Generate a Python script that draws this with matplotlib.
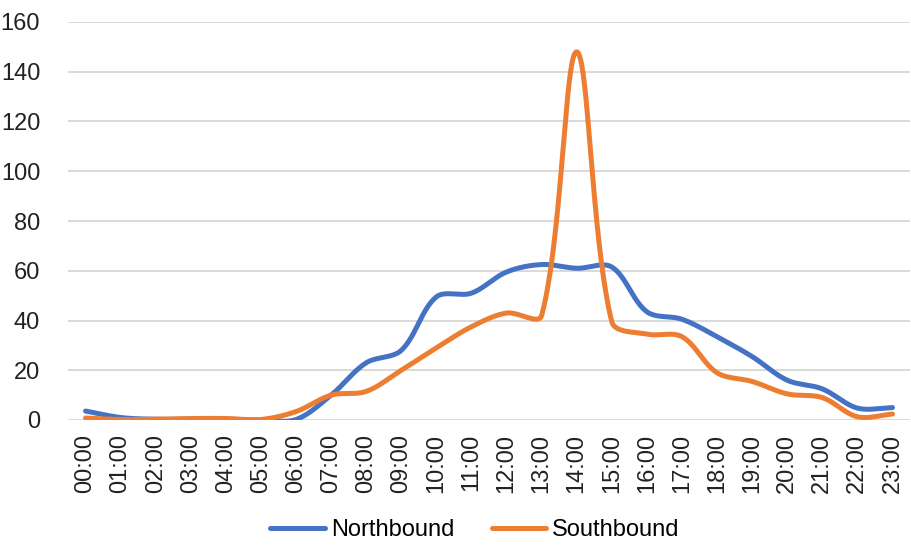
import numpy as np
import matplotlib
matplotlib.use("Agg")
import matplotlib.pyplot as plt

hours = [f"{h:02d}:00" for h in range(24)]
northbound = [3.6, 1.0, 0.3, 0.3, 0.3, 0.0, 0.2, 10.0, 23.0, 28.0, 49.5, 51.0,
              59.5, 62.5, 61.0, 61.5, 43.5, 40.5, 33.5, 25.5, 16.0, 12.5, 4.8, 5.0]
southbound = [0.8, 0.2, 0.3, 0.6, 0.6, 0.2, 3.4, 10.0, 11.5, 20.0, 29.0, 37.5,
              43.0, 42.0, 148.0, 39.5, 34.5, 33.5, 19.0, 15.5, 10.5, 9.0, 1.3, 2.4]

BLUE = "#4472C4"
ORANGE = "#ED7D31"

W, H = 911, 545
X0, X1, Y0, Y1 = 68, 910, 420, 22   # plot area in pixels


def smooth(ax, x, y, n=40, tension=1 / 3):
    """Smoothed line built from cubic Bezier segments; control points are
    weighted by neighbouring segment lengths measured on screen."""
    xmin, xmax = ax.get_xlim()
    ymin, ymax = ax.get_ylim()
    sx = (X1 - X0) / (xmax - xmin)
    sy = (Y0 - Y1) / (ymax - ymin)
    P = np.column_stack([(np.asarray(x, float) - xmin) * sx,
                         (np.asarray(y, float) - ymin) * sy])
    m = len(P)
    cin = np.zeros_like(P)
    cout = np.zeros_like(P)
    for i in range(m):
        prev = P[i - 1] if i > 0 else P[i]
        nxt = P[i + 1] if i < m - 1 else P[i]
        d = nxt - prev
        lp = np.linalg.norm(P[i] - prev)
        ln = np.linalg.norm(nxt - P[i])
        tot = lp + ln if lp + ln > 0 else 1.0
        cout[i] = P[i] + d * tension * ln / tot
        cin[i] = P[i] - d * tension * lp / tot
    t = np.linspace(0, 1, n)[:, None]
    segs = []
    for i in range(m - 1):
        p0, c1, c2, p3 = P[i], cout[i], cin[i + 1], P[i + 1]
        segs.append((1 - t) ** 3 * p0 + 3 * (1 - t) ** 2 * t * c1
                    + 3 * (1 - t) * t ** 2 * c2 + t ** 3 * p3)
    pts = np.concatenate(segs)
    return pts[:, 0] / sx + xmin, pts[:, 1] / sy + ymin


plt.rcParams["font.family"] = ["Liberation Sans", "DejaVu Sans"]

fig = plt.figure(figsize=(9.11, 5.45), dpi=100)
ax = fig.add_axes([X0 / W, 1 - Y0 / H, (X1 - X0) / W, (Y0 - Y1) / H])

xpos = np.arange(len(hours))
ax.set_xlim(-0.5, len(hours) - 0.5)
ax.set_ylim(0, 160)

for vals, col, name in [(northbound, BLUE, "Northbound"), (southbound, ORANGE, "Southbound")]:
    cx, cy = smooth(ax, xpos, vals)
    ax.plot(cx, cy, color=col, lw=3.6, solid_capstyle="round", label=name, zorder=3)

ax.set_yticks(np.arange(0, 161, 20))
ax.set_xticks(xpos)
ax.set_xticklabels(hours, rotation=90)
ax.grid(axis="y", color="#d9d9d9", lw=1.4, zorder=0)
for s in ax.spines.values():
    s.set_visible(False)
ax.tick_params(axis="both", length=0, labelsize=17, colors="#222222")
ax.tick_params(axis="y", pad=20)
ax.tick_params(axis="x", pad=10)

fig.legend(loc="center", bbox_to_anchor=(475 / W, 1 - 530 / H), ncol=2, frameon=False,
           fontsize=17, handlelength=2.3, handletextpad=0.25, columnspacing=1.6)

fig.savefig("out.png", dpi=100)
